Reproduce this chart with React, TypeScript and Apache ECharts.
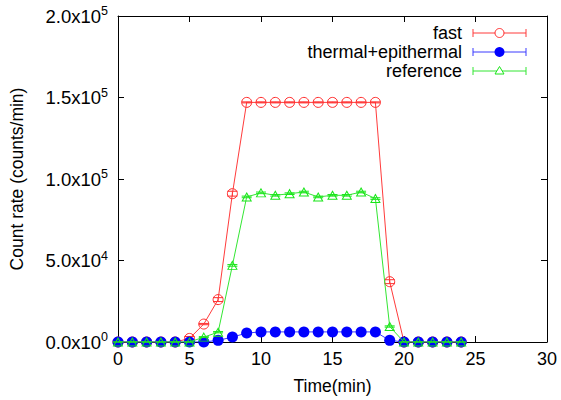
import React, { useEffect, useRef } from "react";
import * as echarts from "echarts";

const timeMin = [0, 1, 2, 3, 4, 5, 6, 7, 8, 9, 10, 11, 12, 13, 14, 15, 16, 17, 18, 19, 20, 21, 22, 23, 24];
const fast = [0, 0, 0, 0, 0, 2200, 11000, 26000, 91000, 147000, 147000, 147000, 147000, 147000, 147000, 147000, 147000, 147000, 147000, 37000, 0, 0, 0, 0, 0];
const fastErr = [0, 0, 0, 0, 0, 1200, 400, 1200, 1500, 300, 300, 300, 300, 300, 300, 300, 300, 300, 300, 1200, 0, 0, 0, 0, 0];
const thermal = [0, 0, 0, 0, 0, 0, 0, 1000, 3000, 5500, 6200, 6200, 6200, 6200, 6200, 6200, 6200, 6200, 6200, 1000, 0, 0, 0, 0, 0];
const thermalErr = [0, 0, 0, 0, 0, 0, 0, 200, 300, 300, 300, 300, 300, 300, 300, 300, 300, 300, 300, 200, 0, 0, 0, 0, 0];
const reference = [0, 0, 0, 0, 0, 0, 3000, 6000, 47000, 89000, 91500, 90000, 91000, 92000, 89000, 90000, 90000, 92000, 88000, 9500, 0, 0, 0, 0, 0];
const referenceErr = [0, 0, 0, 0, 0, 0, 300, 400, 500, 500, 500, 500, 500, 500, 500, 500, 500, 500, 500, 400, 0, 0, 0, 0, 0];

const seriesNames = ["fast", "thermal+epithermal", "reference"];
const seriesColors = ["#ff2a2a", "#0000ff", "#19e619"];
const lineColors = ["#ff3b3b", "#3a3aff", "#33e633"];

const yTickMantissa = ["0.0", "5.0", "1.0", "1.5", "2.0"];
const yTickExp = ["0", "4", "5", "5", "5"];

const FONT = "Liberation Sans, Arial, Helvetica, sans-serif";

function pairs(vals: number[]) {
  return timeMin.map((t, i) => [t, vals[i]]);
}
function triples(vals: number[], errs: number[]) {
  return timeMin.map((t, i) => [t, vals[i], errs[i]]);
}

function errorSeries(vals: number[], errs: number[], color: string, z: number) {
  return {
    type: "custom",
    xAxisIndex: 0,
    yAxisIndex: 0,
    z,
    silent: true,
    data: triples(vals, errs),
    renderItem: (params: any, api: any) => {
      const x = api.value(0);
      const y = api.value(1);
      const e = api.value(2);
      const top = api.coord([x, y + e]);
      const bot = api.coord([x, y - e]);
      const hw = 5;
      const style = { stroke: color, lineWidth: 1 };
      return {
        type: "group",
        children: [
          { type: "line", shape: { x1: top[0], y1: top[1], x2: bot[0], y2: bot[1] }, style },
          { type: "line", shape: { x1: top[0] - hw, y1: top[1], x2: top[0] + hw, y2: top[1] }, style },
          { type: "line", shape: { x1: bot[0] - hw, y1: bot[1], x2: bot[0] + hw, y2: bot[1] }, style },
        ],
      };
    },
  };
}

export default function App() {
  const ref = useRef<HTMLDivElement>(null);
  useEffect(() => {
    if (!ref.current) return;
    const chart = echarts.init(ref.current, undefined, { renderer: "svg" });

    const legendX = 462;
    const legendYs = [33, 52, 71];
    const sx1 = 473;
    const sx2 = 526;
    const legendGraphics: any[] = [];
    seriesNames.forEach((name, i) => {
      const y = legendYs[i];
      const c = lineColors[i];
      legendGraphics.push({
        type: "text",
        x: legendX,
        y,
        style: { text: name, fill: "#000", font: `18px ${FONT}`, align: "right", verticalAlign: "middle" },
      });
      legendGraphics.push({ type: "line", shape: { x1: sx1, y1: y, x2: sx2, y2: y }, style: { stroke: c, lineWidth: 1 } });
      legendGraphics.push({ type: "line", shape: { x1: sx1, y1: y - 4, x2: sx1, y2: y + 4 }, style: { stroke: c, lineWidth: 1 } });
      legendGraphics.push({ type: "line", shape: { x1: sx2, y1: y - 4, x2: sx2, y2: y + 4 }, style: { stroke: c, lineWidth: 1 } });
      const mx = (sx1 + sx2) / 2;
      if (i === 0) {
        legendGraphics.push({ type: "circle", shape: { cx: mx, cy: y, r: 4.5 }, style: { fill: "#fff", stroke: seriesColors[0], lineWidth: 1 } });
      } else if (i === 1) {
        legendGraphics.push({ type: "circle", shape: { cx: mx, cy: y, r: 5 }, style: { fill: seriesColors[1] } });
      } else {
        legendGraphics.push({
          type: "polygon",
          shape: { points: [[mx, y - 4.5], [mx - 4.5, y + 3], [mx + 4.5, y + 3]] },
          style: { fill: "#fff", stroke: seriesColors[2], lineWidth: 1 },
        });
      }
    });

    const axisLine = { show: true, onZero: false, lineStyle: { color: "#000", width: 1 } };
    const tick = { show: true, inside: true, length: 6, lineStyle: { color: "#000" } };

    chart.setOption({
      animation: false,
      backgroundColor: "#fff",
      grid: { left: 118, right: 14, top: 16, bottom: 58, containLabel: false },
      xAxis: [
        {
          type: "value",
          min: 0,
          max: 30,
          interval: 5,
          position: "bottom",
          axisLine,
          axisTick: tick,
          splitLine: { show: false },
          axisLabel: { color: "#000", fontSize: 18, fontFamily: FONT, margin: 8 },
          name: "Time(min)",
          nameLocation: "middle",
          nameGap: 35,
          nameTextStyle: { color: "#000", fontSize: 17.5, fontFamily: FONT },
        },
        {
          type: "value",
          min: 0,
          max: 30,
          interval: 5,
          position: "top",
          axisLine,
          axisTick: tick,
          splitLine: { show: false },
          axisLabel: { show: false },
        },
      ],
      yAxis: [
        {
          type: "value",
          min: 0,
          max: 200000,
          interval: 50000,
          position: "left",
          axisLine,
          axisTick: tick,
          splitLine: { show: false },
          axisLabel: {
            margin: 10,
            formatter: (_v: number, idx: number) => `{m|${yTickMantissa[idx]}x10}{e|${yTickExp[idx]}}`,
            rich: {
              m: { color: "#000", fontSize: 18.5, fontFamily: FONT },
              e: { color: "#000", fontSize: 12.5, fontFamily: FONT, padding: [0, 0, 10, 0] },
            },
          },
          name: "Count rate (counts/min)",
          nameLocation: "middle",
          nameGap: 92,
          nameTextStyle: { color: "#000", fontSize: 17.5, fontFamily: FONT },
        },
        {
          type: "value",
          min: 0,
          max: 200000,
          interval: 50000,
          position: "right",
          axisLine,
          axisTick: tick,
          splitLine: { show: false },
          axisLabel: { show: false },
        },
      ],
      series: [
        errorSeries(fast, fastErr, seriesColors[0], 2),
        {
          name: seriesNames[0],
          type: "line",
          data: pairs(fast),
          z: 3,
          symbol: "circle",
          symbolSize: 10,
          showAllSymbol: true,
          lineStyle: { color: lineColors[0], width: 1 },
          itemStyle: { color: "rgba(0,0,0,0)", borderColor: seriesColors[0], borderWidth: 1 },
        },
        errorSeries(thermal, thermalErr, seriesColors[1], 4),
        {
          name: seriesNames[1],
          type: "line",
          data: pairs(thermal),
          z: 5,
          symbol: "circle",
          symbolSize: 11,
          showAllSymbol: true,
          lineStyle: { color: lineColors[1], width: 1 },
          itemStyle: { color: seriesColors[1], borderWidth: 0 },
        },
        errorSeries(reference, referenceErr, seriesColors[2], 6),
        {
          name: seriesNames[2],
          type: "line",
          data: pairs(reference),
          z: 7,
          symbol: "triangle",
          symbolSize: [9, 8],
          showAllSymbol: true,
          lineStyle: { color: lineColors[2], width: 1 },
          itemStyle: { color: "rgba(0,0,0,0)", borderColor: seriesColors[2], borderWidth: 1 },
        },
      ],
      graphic: legendGraphics,
    });
    return () => chart.dispose();
  }, []);
  return <div ref={ref} style={{ width: 561, height: 400, position: "absolute", left: 0, top: 0 }} />;
}
